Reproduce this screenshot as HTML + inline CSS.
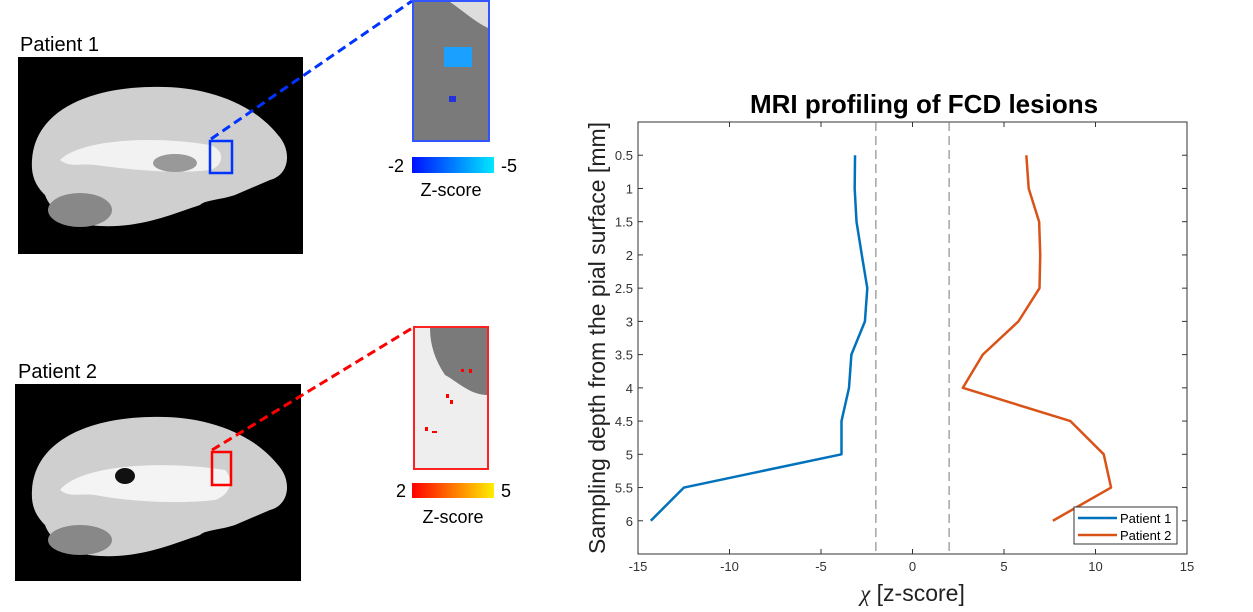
<!DOCTYPE html>
<html><head><meta charset="utf-8"><style>
body{margin:0;background:#fff;width:1253px;height:612px;overflow:hidden;font-family:"Liberation Sans",sans-serif;}
svg{position:absolute;left:0;top:0}
</style></head><body>
<svg width="1253" height="612">
 <g>
  <text x="20" y="51" font-size="20" font-family="Liberation Sans">Patient 1</text>
  <rect x="18" y="57" width="285" height="197" fill="#000"/>
  <path d="M32,160 C35,110 90,88 150,87 C200,85 250,100 278,135 C292,150 290,175 270,180 L235,195 C220,200 205,200 200,205 C170,215 140,228 100,226 C70,225 50,210 45,195 C35,185 31,175 32,160Z" fill="#cfcfcf"/>
  <path d="M60,160 C80,140 150,135 210,145 C225,150 225,165 210,170 C170,175 120,168 95,165 C80,163 70,168 60,160Z" fill="#f2f2f2"/>
  <ellipse cx="175" cy="163" rx="22" ry="9" fill="#999"/>
  <ellipse cx="80" cy="210" rx="32" ry="17" fill="#888"/>
  <rect x="210" y="141" width="22" height="32" fill="none" stroke="#0033ff" stroke-width="2.5"/>
  <line x1="211" y1="139" x2="412" y2="1" stroke="#0033ff" stroke-width="3" stroke-dasharray="9,5"/>
  <rect x="413" y="1" width="76" height="140" fill="#7a7a7a" stroke="#3355ff" stroke-width="2"/>
  <path d="M450,2 L488,2 L488,28 C475,22 462,10 450,2Z" fill="#ddd"/>
  <rect x="444" y="47" width="28" height="20" fill="#1aa0ff"/>
  <rect x="449" y="96" width="7" height="6" fill="#2233dd"/>
  <defs><linearGradient id="gb"><stop offset="0" stop-color="#0010ff"/><stop offset="1" stop-color="#00e8ff"/></linearGradient>
  <linearGradient id="gr"><stop offset="0" stop-color="#ff0000"/><stop offset="1" stop-color="#ffee00"/></linearGradient></defs>
  <rect x="412" y="157" width="82" height="16" fill="url(#gb)"/>
  <text x="388" y="172" font-size="18">-2</text>
  <text x="501" y="172" font-size="18">-5</text>
  <text x="451" y="196" font-size="18" text-anchor="middle">Z-score</text>
 </g>
 <g>
  <text x="18" y="378" font-size="20">Patient 2</text>
  <rect x="15" y="384" width="286" height="197" fill="#000"/>
  <path d="M32,490 C35,440 90,418 150,417 C200,415 250,430 278,465 C292,480 290,505 270,510 L235,525 C220,530 205,530 200,535 C170,545 140,558 100,556 C70,555 50,540 45,525 C35,515 31,505 32,490Z" fill="#cfcfcf"/>
  <path d="M60,490 C80,465 160,460 225,470 C235,480 230,495 215,500 C170,505 120,500 95,495 C80,493 70,498 60,490Z" fill="#f4f4f4"/>
  <ellipse cx="125" cy="476" rx="10" ry="8" fill="#111"/>
  <ellipse cx="80" cy="540" rx="32" ry="15" fill="#888"/>
  <rect x="212" y="452" width="19" height="33" fill="none" stroke="#ff0000" stroke-width="2.5"/>
  <line x1="212" y1="450" x2="414" y2="327" stroke="#ff0000" stroke-width="3" stroke-dasharray="9,5"/>
  <rect x="414" y="327" width="74" height="142" fill="#eeeeee" stroke="#ff2222" stroke-width="2"/>
  <path d="M430,328 L487,328 L487,395 C470,395 455,380 445,375 C435,360 430,345 430,328Z" fill="#7a7a7a"/>
  <rect x="461" y="369" width="3" height="3" fill="red"/><rect x="469" y="369" width="3" height="4" fill="red"/>
  <rect x="446" y="394" width="3" height="4" fill="red"/><rect x="450" y="400" width="3" height="4" fill="red"/>
  <rect x="425" y="427" width="3" height="4" fill="red"/><rect x="432" y="431" width="5" height="2" fill="red"/>
  <rect x="412" y="483" width="82" height="15" fill="url(#gr)"/>
  <text x="396" y="497" font-size="18">2</text>
  <text x="501" y="497" font-size="18">5</text>
  <text x="453" y="523" font-size="18" text-anchor="middle">Z-score</text>
 </g>
 <g id="chart"></g>
</svg>
<script>
const depths=[0.5,1,1.5,2,2.5,3,3.5,4,4.5,5,5.5,6];
const patient1=[-3.14,-3.16,-3.06,-2.77,-2.47,-2.6,-3.34,-3.47,-3.88,-3.88,-12.49,-14.3];
const patient2=[6.22,6.35,6.92,6.98,6.94,5.79,3.84,2.75,8.63,10.45,10.85,7.67];
const xTicks=[-15,-10,-5,0,5,10,15];
const yTicks=[0.5,1,1.5,2,2.5,3,3.5,4,4.5,5,5.5,6];
const thresholds=[-2,2];
const L=638,R=1187,T=122,B=554;
const xs=v=>L+(v+15)/30*(R-L);
const ys=v=>T+v/6.5*(B-T);
const NS='http://www.w3.org/2000/svg';
const g=document.getElementById('chart');
function mk(tag,attrs,parent){const e=document.createElementNS(NS,tag);for(const k in attrs)e.setAttribute(k,attrs[k]);(parent||g).appendChild(e);return e;}
const frame=mk('rect',{x:L,y:T,width:R-L,height:B-T,fill:'none',stroke:'#333','stroke-width':1});


xTicks.forEach(v=>{
 mk('line',{x1:xs(v),x2:xs(v),y1:B,y2:B-5,stroke:'#333'});
 mk('line',{x1:xs(v),x2:xs(v),y1:T,y2:T+5,stroke:'#333'});
 const t=mk('text',{x:xs(v),y:B+17,'font-size':13,'text-anchor':'middle',fill:'#333'});t.textContent=v;
 
 
});
yTicks.forEach(v=>{
 mk('line',{x1:L,x2:L+5,y1:ys(v),y2:ys(v),stroke:'#333'});
 mk('line',{x1:R,x2:R-5,y1:ys(v),y2:ys(v),stroke:'#333'});
 const t=mk('text',{x:L-5,y:ys(v)+5,'font-size':13,'text-anchor':'end',fill:'#333'});t.textContent=v;
 
 
});
thresholds.forEach(v=>{
 const l=mk('line',{x1:xs(v),x2:xs(v),y1:T,y2:B,stroke:'#777','stroke-dasharray':'9,5','stroke-width':1});
 
 
});
function series(vals,color,name){
 const p=mk('polyline',{points:vals.map((v,i)=>xs(v)+','+ys(depths[i])).join(' '),fill:'none',stroke:color,'stroke-width':2.5,'stroke-linejoin':'round'});
 
 
}
series(patient1,'#0072BD','patient-1-line');
series(patient2,'#D95319','patient-2-line');
const title=mk('text',{x:924,y:113,'font-size':26,'font-weight':'bold','text-anchor':'middle'});title.textContent='MRI profiling of FCD lesions';


const yl=mk('text',{x:0,y:0,'font-size':23,'text-anchor':'middle',fill:'#222',transform:'translate(605,338) rotate(-90)'});yl.textContent='Sampling depth from the pial surface [mm]';


const xl=mk('text',{x:(L+R)/2,y:601,'font-size':23,'text-anchor':'middle',fill:'#222'});xl.innerHTML='<tspan font-family="Liberation Serif" font-style="italic">χ</tspan> [z-score]';


const lg=mk('g',{});


mk('rect',{x:1074,y:507,width:103,height:37,fill:'#fff',stroke:'#333'},lg);
[['Patient 1','#0072BD',518],['Patient 2','#D95319',535]].forEach(([n,c,y])=>{
 mk('line',{x1:1078,x2:1117,y1:y,y2:y,stroke:c,'stroke-width':2.5},lg);
 const t=mk('text',{x:1120,y:y+5,'font-size':13},lg);t.textContent=n;
 
 
});
</script>
</body></html>
